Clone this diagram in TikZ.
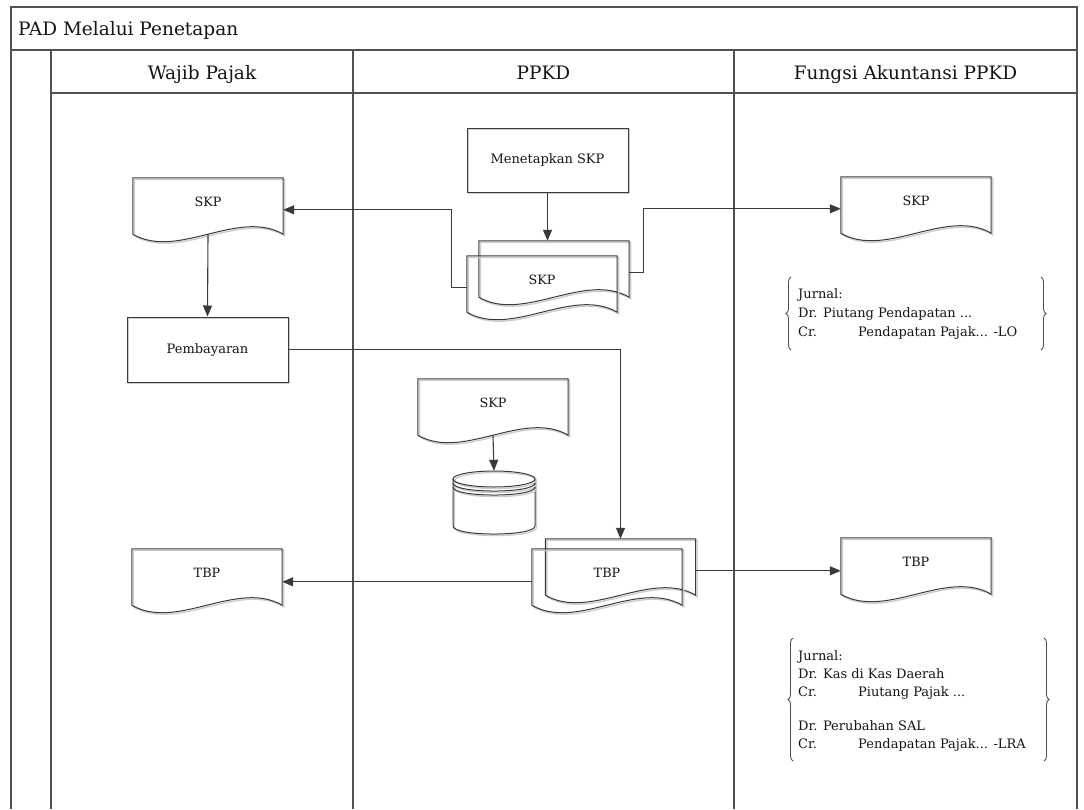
\documentclass[tikz,border=0pt]{standalone}
\usepackage{fontspec}
\setmainfont{DejaVu Serif}
\usetikzlibrary{arrows.meta,calc,decorations.pathreplacing}
\definecolor{ln}{HTML}{3A3A3A}
\definecolor{fr}{HTML}{505050}
\definecolor{tx}{HTML}{141414}
\newcommand{\docshape}[1]{\draw[shp] (#1.north west) -- (#1.north east) -- (#1.south east) .. controls +(-45,-26) and +(45,26) .. (#1.south west) -- cycle;}
\begin{document}
\begin{tikzpicture}[x=1pt,y=-1pt,
  lane/.style={draw=fr, line width=1.4pt},
  shp/.style={draw=ln, line width=1pt, preaction={draw=black!20, line width=1.4pt, transform canvas={xshift=1.5pt,yshift=-1.5pt}}},
  boxnode/.style={shp, minimum height=64pt, inner sep=0pt, text=tx, font=\fontsize{13}{14}\selectfont},
  docbox/.style={minimum width=150pt, minimum height=56pt, inner sep=0pt, text height=8pt, text depth=8pt, text=tx, font=\fontsize{12.8}{14}\selectfont},
  hdr/.style={anchor=base, inner sep=0pt, text=tx, font=\fontsize{18.5}{20}\selectfont},
  jrn/.style={anchor=north west, inner sep=0pt, align=left, text=tx},
  brc/.style={draw=ln!90, line width=0.9pt, decorate, decoration={brace, amplitude=5pt}},
  arr/.style={draw=ln, line width=1.1pt, -{Triangle[length=11pt,width=9pt]}}]
\useasboundingbox (0,0) rectangle (1084,809);
% swimlane frame
\draw[lane] (11,809) -- (11,7) -- (1077,7) -- (1077,809);
\draw[lane] (11,50) -- (1077,50);
\draw[lane] (51,93) -- (1077,93);
\draw[lane] (51,50) -- (51,809);
\draw[lane] (353,50) -- (353,809);
\draw[lane] (734,50) -- (734,809);
\node[anchor=base west, inner sep=0pt, text=tx, font=\fontsize{18.5}{20}\selectfont] (title) at (18,35) {PAD Melalui Penetapan};
\node[hdr] (h1) at (202,79) {Wajib Pajak};
\node[hdr] (h2) at (543.5,79) {PPKD};
\node[hdr] (h3) at (905.5,79) {Fungsi Akuntansi PPKD};
% process boxes
\node[boxnode, minimum width=161pt] (menet) at (547.5,160) {Menetapkan SKP};
\node[boxnode, minimum width=161pt, minimum height=65pt] (pemb) at (207.5,349.5) {Pembayaran};
% documents
\node[docbox] (skpb) at (554,269) {};
\node[docbox] (skpf) at (542,284) {SKP};
\docshape{skpb}
\docshape{skpf}
\node[docbox] (skpL) at (208,206) {SKP};
\docshape{skpL}
\node[docbox] (skpR) at (916,205) {SKP};
\docshape{skpR}
\node[docbox] (skpM) at (493,407) {SKP};
\docshape{skpM}
\node[docbox] (tbpb) at (620.5,567) {};
\node[docbox] (tbpf) at (607,577) {TBP};
\docshape{tbpb}
\docshape{tbpf}
\node[docbox] (tbpL) at (207,577) {TBP};
\docshape{tbpL}
\node[docbox] (tbpR) at (916,566) {TBP};
\docshape{tbpR}
% database
\node[minimum width=82pt, minimum height=63pt, inner sep=0pt] (db) at (494,502.5) {};
\draw[shp] (453,479) -- (453,526) .. controls (453,536.7) and (535,536.7) .. (535,526) -- (535,479);
\draw[shp] (494,479) ellipse [x radius=41, y radius=8];
\draw[shp] (453,483) .. controls (453,493.7) and (535,493.7) .. (535,483);
\draw[shp] (453,487) .. controls (453,497.7) and (535,497.7) .. (535,487);
% journals
\node[jrn, font=\fontsize{13}{19}\selectfont] (j1) at (798,288) {Jurnal:\\Dr. Piutang Pendapatan ...\\\makebox[60pt][l]{Cr.}Pendapatan Pajak... -LO};
\draw[brc] (791,350) -- (791,277);
\draw[brc] (1041,277) -- (1041,350);
\node[jrn, font=\fontsize{13}{18}\selectfont] (j2) at (798,650) {Jurnal:\\Dr. Kas di Kas Daerah\\\makebox[60pt][l]{Cr.}Piutang Pajak ...\\[16pt]Dr. Perubahan SAL\\\makebox[60pt][l]{Cr.}Pendapatan Pajak... -LRA};
\draw[brc] (793,761) -- (793,638);
\draw[brc] (1044,638) -- (1044,761);
% connectors
\draw[arr] (menet.south) -- (menet.south |- skpb.north);
\draw[arr] ($(skpf.north west)+(0,32)$) -- ++(-15,0) |- ($(skpL.north east)+(0,32)$);
\draw[arr] ($(skpb.north east)+(0,32)$) -- ++(14,0) |- ($(skpR.north west)+(0,32)$);
\draw[arr] (skpL.south) -- (pemb.north);
\draw[arr] (pemb.east) -| (tbpb.north);
\draw[arr] (skpM.south) -- (db.north);
\draw[arr] ($(tbpf.north west)+(0,33)$) -- ($(tbpL.north east)+(0,33)$);
\draw[arr] ($(tbpb.north east)+(0,32)$) -- ($(tbpR.north west)+(0,33)$);
\end{tikzpicture}
\end{document}
